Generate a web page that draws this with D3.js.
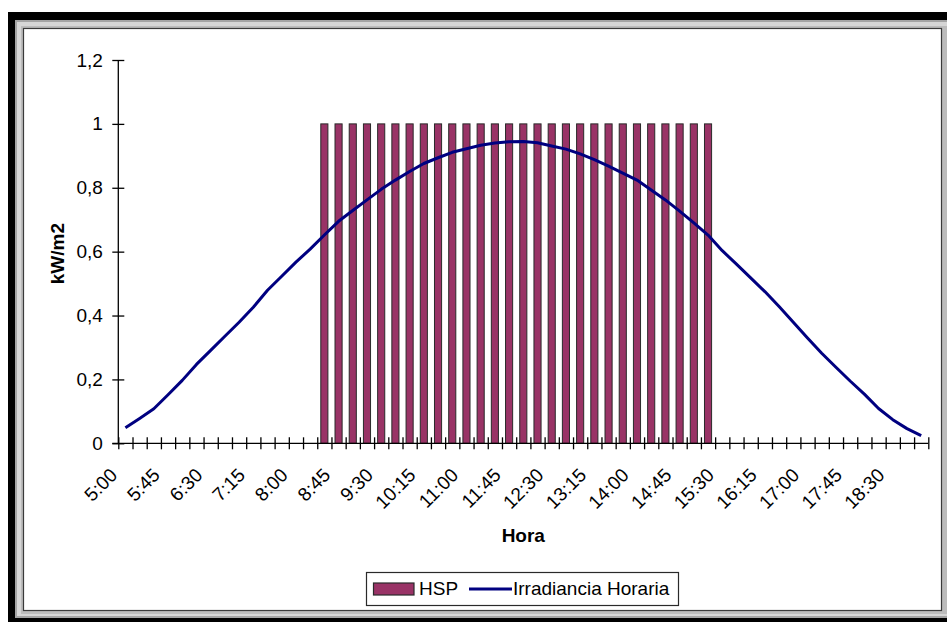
<!DOCTYPE html>
<html>
<head>
<meta charset="utf-8">
<script src="https://cdn.jsdelivr.net/npm/d3@7/dist/d3.min.js"></script>
<style>
  html, body { margin: 0; padding: 0; background: #ffffff; }
  svg { display: block; }
  text { font-family: "Liberation Sans", Arial, sans-serif; fill: #000; }
</style>
</head>
<body>
<svg id="chart" width="947" height="622"></svg>
<script>
// ---- data ----
const categories = [
  "5:00","5:15","5:30","5:45","6:00","6:15","6:30","6:45","7:00","7:15",
  "7:30","7:45","8:00","8:15","8:30","8:45","9:00","9:15","9:30","9:45",
  "10:00","10:15","10:30","10:45","11:00","11:15","11:30","11:45","12:00","12:15",
  "12:30","12:45","13:00","13:15","13:30","13:45","14:00","14:15","14:30","14:45",
  "15:00","15:15","15:30","15:45","16:00","16:15","16:30","16:45","17:00","17:15",
  "17:30","17:45","18:00","18:15","18:30","18:45","19:00"
];
const hsp = [
  0,0,0,0,0,0,0,0,0,0,
  0,0,0,0,1,1,1,1,1,1,
  1,1,1,1,1,1,1,1,1,1,
  1,1,1,1,1,1,1,1,1,1,
  1,1,0,0,0,0,0,0,0,0,
  0,0,0,0,0,0,0
];
const irradiancia = [
  0.049,0.078,0.108,0.152,0.197,0.247,0.291,0.335,0.379,0.426,
  0.479,0.523,0.567,0.608,0.652,0.695,0.729,0.762,0.795,0.824,
  0.851,0.876,0.894,0.911,0.922,0.933,0.940,0.944,0.945,0.941,
  0.931,0.921,0.906,0.888,0.868,0.846,0.824,0.793,0.762,0.727,
  0.690,0.652,0.603,0.561,0.518,0.475,0.428,0.379,0.330,0.282,
  0.238,0.195,0.154,0.109,0.074,0.046,0.024
];
const xTickLabels = ["5:00","5:45","6:30","7:15","8:00","8:45","9:30","10:15","11:00","11:45",
  "12:30","13:15","14:00","14:45","15:30","16:15","17:00","17:45","18:30"];
const yTickValues = [0, 0.2, 0.4, 0.6, 0.8, 1, 1.2];
const yTickLabels = ["0","0,2","0,4","0,6","0,8","1","1,2"];
const seriesNames = ["HSP", "Irradiancia Horaria"];
const xTitle = "Hora";
const yTitle = "kW/m2";

(function () {
// ---- frame ----
const svg = d3.select("#chart");
svg.append("rect").attr("x", 8).attr("y", 12).attr("width", 960).attr("height", 640).attr("fill", "#000");
svg.append("rect").attr("x", 15).attr("y", 20).attr("width", 950).attr("height", 598).attr("fill", "#a4a4a4");
svg.append("rect").attr("x", 17).attr("y", 22).attr("width", 940).attr("height", 594).attr("fill", "#d6d6d6");
svg.append("rect").attr("x", 21).attr("y", 26).attr("width", 930).attr("height", 588).attr("fill", "#bcbcbc");
svg.append("rect").attr("x", 23.5).attr("y", 28.5).attr("width", 918).attr("height", 582)
  .attr("fill", "#fff").attr("stroke", "#3a3a3a").attr("stroke-width", 1.2);

// ---- scales ----
const pLeft = 118.3, pRight = 928.3, pTop = 60, pBottom = 443.3;
const x = d3.scaleBand().domain(categories).range([pLeft, pRight]).paddingInner(0.5).paddingOuter(0.25);
const cx = c => x(c) + x.bandwidth() / 2;
const y = d3.scaleLinear().domain([0, 1.2]).range([pBottom, pTop]);
const xb = d3.scaleLinear().domain([0, categories.length]).range([pLeft, pRight]);

const FS = 19;
const FF = "Liberation Sans, Arial, sans-serif";

// ---- bars ----
svg.append("g").selectAll("rect")
  .data(categories.map((c, i) => ({c, v: hsp[i]})).filter(d => d.v > 0))
  .join("rect")
  .attr("x", d => x(d.c))
  .attr("y", d => y(d.v))
  .attr("width", x.bandwidth())
  .attr("height", d => y(0) - y(d.v))
  .attr("fill", "#993366")
  .attr("stroke", "#2a2a2a")
  .attr("stroke-width", 1);

// ---- y axis ----
const yAxis = svg.append("g").attr("transform", `translate(${pLeft},0)`)
  .call(d3.axisLeft(y).tickValues(yTickValues).tickFormat((d, i) => yTickLabels[i]).tickSize(6).tickPadding(9.5));
yAxis.select(".domain").attr("stroke", "#000").attr("stroke-width", 1.3).attr("d", `M0,${pTop}V${pBottom}`);
yAxis.selectAll(".tick line").attr("x1", 6).attr("x2", -6).attr("stroke", "#000").attr("stroke-width", 1.3);
yAxis.selectAll(".tick text").attr("font-size", FS).attr("font-family", FF).attr("fill", "#000");

// ---- x axis (boundary ticks) ----
const xAxis = svg.append("g").attr("transform", `translate(0,${pBottom})`)
  .call(d3.axisBottom(xb).tickValues(d3.range(categories.length + 1)).tickFormat("").tickSize(6));
xAxis.select(".domain").attr("stroke", "#000").attr("stroke-width", 1.3).attr("d", `M${pLeft - 6},0H${pRight}`);
xAxis.selectAll(".tick line").attr("y1", -6).attr("y2", 6).attr("stroke", "#000").attr("stroke-width", 1.3);

// ---- x labels ----
const xl = svg.append("g").attr("transform", `translate(0,${pBottom})`)
  .call(d3.axisBottom(x).tickValues(xTickLabels).tickSize(0).tickPadding(0));
xl.select(".domain").remove();
xl.selectAll(".tick text")
  .attr("font-size", FS)
  .attr("font-family", FF)
  .attr("fill", "#000")
  .attr("text-anchor", "end")
  .attr("dy", null)
  .attr("y", 0)
  .attr("transform", "translate(-7,33) rotate(-45)");

// ---- line ----
const line = d3.line().x((d, i) => cx(categories[i])).y(d => y(d));
svg.append("path").datum(irradiancia)
  .attr("d", line)
  .attr("fill", "none")
  .attr("stroke", "#000080")
  .attr("stroke-width", 3)
  .attr("stroke-linejoin", "round");

// ---- titles ----
svg.append("text").attr("x", (pLeft + pRight) / 2).attr("y", 542)
  .attr("text-anchor", "middle").attr("font-size", FS).attr("font-weight", "bold").text(xTitle);
svg.append("text").attr("transform", `translate(64,${(pTop + pBottom) / 2 + 2}) rotate(-90)`)
  .attr("text-anchor", "middle").attr("font-size", FS).attr("font-weight", "bold").text(yTitle);

// ---- legend ----
const lg = svg.append("g");
lg.append("rect").attr("x", 366.5).attr("y", 572.5).attr("width", 312).attr("height", 33)
  .attr("fill", "#fff").attr("stroke", "#2a2a2a").attr("stroke-width", 1.2);
lg.append("rect").attr("x", 373.5).attr("y", 583).attr("width", 40.5).attr("height", 12)
  .attr("fill", "#993366").attr("stroke", "#2a2a2a").attr("stroke-width", 1.2);
lg.append("text").attr("x", 419).attr("y", 595).attr("font-size", FS).text(seriesNames[0]);
lg.append("line").attr("x1", 469).attr("x2", 512).attr("y1", 589).attr("y2", 589)
  .attr("stroke", "#000080").attr("stroke-width", 3);
lg.append("text").attr("x", 513).attr("y", 595).attr("font-size", FS).text(seriesNames[1]);
})();
</script>
</body>
</html>
